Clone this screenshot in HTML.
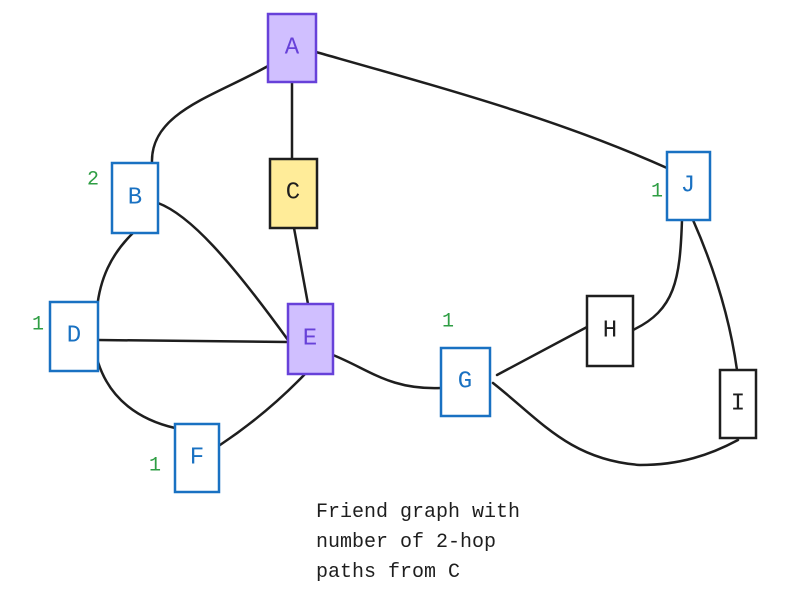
<!DOCTYPE html>
<html><head><style>
html,body{margin:0;padding:0;background:#fff;}
svg{display:block;}
text{font-family:"Liberation Mono",monospace;}
</style></head><body>
<svg width="796" height="600" viewBox="0 0 796 600" xmlns="http://www.w3.org/2000/svg">
<g fill="none" stroke="#1e1e1e" stroke-width="2.5" stroke-linecap="round">
<path d="M275 62 C220 95 150 110 152 163"/>
<path d="M292 82 L292 158"/>
<path d="M316 52 C450 90 560 120 667 168"/>
<path d="M294 228 L308 304"/>
<path d="M134 232 C110 255 100 280 97 308"/>
<path d="M158 203 C190 215 230 260 288 340"/>
<path d="M98 340 L288 342"/>
<path d="M98 362 C110 400 140 420 175 428"/>
<path d="M220 445 C250 425 280 400 305 374"/>
<path d="M333 355 C370 370 390 390 441 388"/>
<path d="M497 375 L587 327"/>
<path d="M493 383 C540 420 570 460 640 465 C680 465 710 455 738 440"/>
<path d="M633 330 C675 310 680 280 682 220"/>
<path d="M693 220 C715 270 730 320 737 370"/>
</g>
<g stroke-width="2.5">
<rect x="268" y="14" width="48" height="68" fill="#d0bfff" stroke="#6741d9"/>
<rect x="270" y="159" width="47" height="69" fill="#ffec99" stroke="#1e1e1e"/>
<rect x="112" y="163" width="46" height="70" fill="#fff" stroke="#1971c2"/>
<rect x="667" y="152" width="43" height="68" fill="#fff" stroke="#1971c2"/>
<rect x="50" y="302" width="48" height="69" fill="#fff" stroke="#1971c2"/>
<rect x="288" y="304" width="45" height="70" fill="#d0bfff" stroke="#6741d9"/>
<rect x="441" y="348" width="49" height="68" fill="#fff" stroke="#1971c2"/>
<rect x="587" y="296" width="46" height="70" fill="#fff" stroke="#1e1e1e"/>
<rect x="720" y="370" width="36" height="68" fill="#fff" stroke="#1e1e1e"/>
<rect x="175" y="424" width="44" height="68" fill="#fff" stroke="#1971c2"/>
</g>
<g font-size="24" text-anchor="middle" dominant-baseline="central">
<text x="292" y="48" fill="#6741d9">A</text>
<text x="293" y="193" fill="#1e1e1e">C</text>
<text x="135" y="198" fill="#1971c2">B</text>
<text x="688" y="186" fill="#1971c2">J</text>
<text x="74" y="336" fill="#1971c2">D</text>
<text x="310" y="339" fill="#6741d9">E</text>
<text x="465" y="382" fill="#1971c2">G</text>
<text x="610" y="331" fill="#1e1e1e">H</text>
<text x="738" y="404" fill="#1e1e1e">I</text>
<text x="197" y="458" fill="#1971c2">F</text>
</g>
<g font-size="20" fill="#2f9e44" text-anchor="middle" dominant-baseline="central">
<text x="93" y="180">2</text>
<text x="657" y="192">1</text>
<text x="38" y="325">1</text>
<text x="448" y="322">1</text>
<text x="155" y="466">1</text>
</g>
<g font-size="20" fill="#1e1e1e">
<text x="316" y="517">Friend graph with</text>
<text x="316" y="547">number of 2-hop</text>
<text x="316" y="577">paths from C</text>
</g>
</svg>
</body></html>
